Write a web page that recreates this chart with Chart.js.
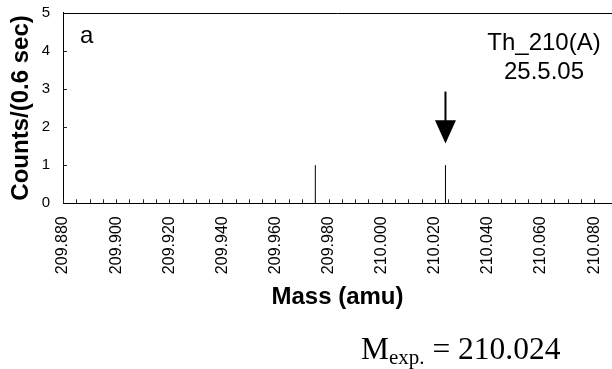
<!DOCTYPE html>
<html><head><meta charset="utf-8">
<script src="https://cdn.jsdelivr.net/npm/chart.js@4"></script>
<style>
html,body{margin:0;padding:0;background:#fff;overflow:hidden}
#wrap{position:relative;width:612px;height:369px;overflow:hidden}
#c{position:absolute;left:0;top:0}
.note{position:absolute;font-family:'Liberation Sans',Arial,sans-serif;font-size:24px;color:#000;white-space:nowrap}
#mexp{font-family:'Liberation Serif','Times New Roman',serif;font-size:31.5px;line-height:30px}
#mexp .sub{font-size:21px;position:relative;top:5px}
</style></head>
<body>
<div id="wrap">
<canvas id="c" width="612" height="369"></canvas>
<div class="note" id="panel" style="left:80px;top:23px;line-height:24px">a</div>
<div class="note" id="sample" style="left:474px;top:27px;width:140px;text-align:center;line-height:29.3px">Th_210(A)<br>25.5.05</div>
<div class="note" id="mexp" style="left:361px;top:334.4px"></div>
</div>
<script>
// ---- data ----
const peakMasses = [209.975, 210.024];   // amu
const peakCounts = [1, 1];               // counts / 0.6 s
const xTickLabels = ['209.880','209.900','209.920','209.940','209.960','209.980','210.000','210.020','210.040','210.060','210.080'];
const yTickLabels = ['0','1','2','3','4','5'];
const measuredMass = 210.024;
const xMin = 209.880, xMax = 210.0867, xStep = 0.005;
const yMin = 0, yMax = 5;
// arrow marker (in data units)
const arrowTop = 2.93, arrowHeadTop = 2.18, arrowTip = 1.57;

document.getElementById('mexp').innerHTML = 'M<span class="sub">exp.</span> = ' + measuredMass.toFixed(3);

// stick spectrum built from the peaks
const sticks = [];
peakMasses.forEach((m, i) => {
  sticks.push({x: m, y: 0}, {x: m, y: peakCounts[i]}, {x: m, y: null});
});

const FONT = "'Liberation Sans', Arial, sans-serif";

const decor = {
  id: 'decor',
  afterDatasetsDraw(chart) {
    const {ctx, chartArea: a, scales: {x, y}} = chart;
    ctx.save();
    // top frame line
    ctx.strokeStyle = '#000';
    ctx.lineWidth = 1;
    ctx.beginPath();
    ctx.moveTo(a.left, Math.round(a.top) + 0.5);
    ctx.lineTo(chart.width, Math.round(a.top) + 0.5);
    ctx.stroke();
    // inside tick marks on x
    ctx.strokeStyle = '#222';
    ctx.beginPath();
    x.ticks.forEach(t => {
      const k = t.value / xStep;
      if (Math.abs(k - Math.round(k)) > 1e-6) return;
      const px = Math.round(x.getPixelForValue(t.value)) + 0.5;
      ctx.moveTo(px, a.bottom);
      ctx.lineTo(px, a.bottom - 4);
    });
    // inside tick marks on y
    y.ticks.forEach(t => {
      if (t.value <= yMin || t.value >= yMax) return;
      const py = Math.round(y.getPixelForValue(t.value)) + 0.5;
      ctx.moveTo(a.left, py);
      ctx.lineTo(a.left + 4, py);
    });
    ctx.stroke();
    // arrow pointing at measured mass
    const ax = x.getPixelForValue(measuredMass);
    ctx.strokeStyle = '#000';
    ctx.fillStyle = '#000';
    ctx.lineWidth = 2;
    ctx.beginPath();
    ctx.moveTo(ax, y.getPixelForValue(arrowTop));
    ctx.lineTo(ax, y.getPixelForValue(arrowHeadTop) + 1);
    ctx.stroke();
    const hy = y.getPixelForValue(arrowHeadTop), ty = y.getPixelForValue(arrowTip);
    ctx.beginPath();
    ctx.moveTo(ax - 10.5, hy);
    ctx.lineTo(ax + 10.5, hy);
    ctx.lineTo(ax, ty);
    ctx.closePath();
    ctx.fill();
    ctx.restore();
  }
};

new Chart(document.getElementById('c'), {
  type: 'scatter',
  data: {
    datasets: [{
      data: sticks,
      showLine: true,
      spanGaps: false,
      borderColor: '#000',
      borderWidth: 1,
      pointRadius: 0,
      pointHoverRadius: 0
    }]
  },
  options: {
    responsive: false,
    animation: false,
    events: [],
    layout: {padding: {top: 12.6, left: 0, right: 0, bottom: 0}},
    plugins: {legend: {display: false}, tooltip: {enabled: false}},
    scales: {
      x: {
        type: 'linear',
        min: xMin, max: xMax,
        grid: {display: false, drawTicks: false},
        border: {display: true, color: '#000', width: 1},
        ticks: {
          stepSize: xStep,
          autoSkip: false,
          minRotation: 90, maxRotation: 90,
          padding: 13,
          color: '#000',
          font: {family: FONT, size: 16},
          callback: (v) => { const s = Number(v).toFixed(3); return xTickLabels.includes(s) ? s : ''; }
        },
        title: {
          display: true, text: 'Mass (amu)', color: '#000',
          font: {family: FONT, size: 24, weight: 'bold'},
          padding: {top: 0, bottom: 57}
        },
        afterFit: (s) => { s.height = 165.7; s.paddingLeft = 0; s.paddingRight = 0; }
      },
      y: {
        min: yMin, max: yMax,
        grid: {display: false, drawTicks: false},
        border: {display: true, color: '#000', width: 1},
        ticks: {
          stepSize: 1,
          autoSkip: false,
          padding: 13,
          color: '#000',
          font: {family: FONT, size: 15},
          callback: (v) => yTickLabels[Math.round(v)] !== undefined ? yTickLabels[Math.round(v)] : ''
        },
        title: {
          display: true, text: 'Counts/(0.6 sec)', color: '#000',
          font: {family: FONT, size: 24, weight: 'bold'},
          padding: {top: 6.5, bottom: 0}
        },
        afterFit: (s) => { s.width = 63; s.paddingTop = 0; s.paddingBottom = 0; }
      }
    }
  },
  plugins: [decor]
});
</script>
</body></html>
